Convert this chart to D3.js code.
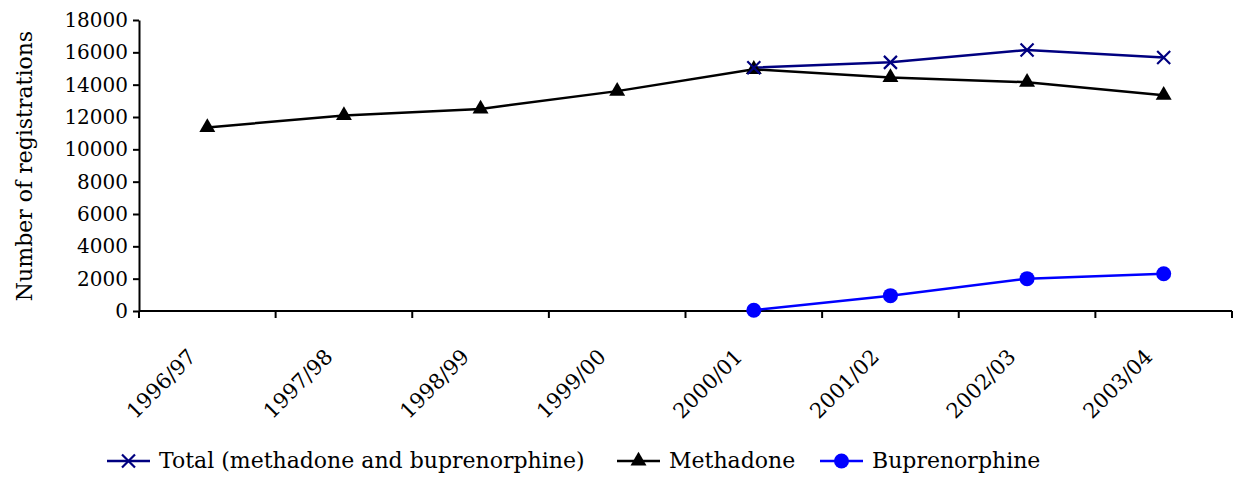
<!DOCTYPE html>
<html>
<head>
<meta charset="utf-8">
<script src="https://cdn.jsdelivr.net/npm/d3@7"></script>
<style>
  body { margin: 0; background: #fff; }
  svg text { font-family: "DejaVu Serif", serif; }
</style>
</head>
<body>
<svg id="chart" width="1234" height="477"></svg>
<script>
const years = ["1996/97", "1997/98", "1998/99", "1999/00", "2000/01", "2001/02", "2002/03", "2003/04"];
const totalValues = [null, null, null, null, 15050, 15380, 16150, 15680];
const methadoneValues = [11350, 12100, 12500, 13600, 14950, 14450, 14150, 13350];
const buprenorphineValues = [null, null, null, null, 50, 950, 2000, 2300];
const yTicks = [0, 2000, 4000, 6000, 8000, 10000, 12000, 14000, 16000, 18000];

const svg = d3.select("#chart");
const plotLeft = 139, plotRight = 1232, plotTop = 20, plotBottom = 311;
const FONT = "'DejaVu Serif', serif";

const x = d3.scaleBand().domain(years).range([plotLeft, plotRight]).padding(0);
const y = d3.scaleLinear().domain([0, 18000]).range([plotBottom, plotTop]);

// y axis
const yAxis = svg.append("g")
    .attr("transform", "translate(" + plotLeft + ",0)")
    .call(d3.axisLeft(y).tickValues(yTicks).tickSize(6).tickSizeOuter(0).tickFormat(d3.format("d")));
yAxis.select(".domain").attr("stroke", "#000").attr("stroke-width", 2);
yAxis.selectAll(".tick line").attr("stroke-width", 2);
yAxis.selectAll("text").attr("x", -11).attr("fill", "#000")
    .style("font-family", FONT).style("font-size", "20px");

// x axis: ticks on category boundaries
const xAxis = svg.append("g").attr("transform", "translate(0," + plotBottom + ")");
xAxis.append("line").attr("x1", plotLeft).attr("x2", plotRight).attr("stroke", "#000").attr("stroke-width", 2);
const bounds = years.map(d => x(d)).concat([plotRight]);
xAxis.selectAll("line.tk").data(bounds).join("line").attr("class", "tk")
    .attr("x1", d => d).attr("x2", d => d).attr("y1", 0).attr("y2", 7)
    .attr("stroke", "#000").attr("stroke-width", 2);
xAxis.selectAll("text").data(years).join("text")
    .attr("transform", d => "translate(" + (x(d) + x.bandwidth() / 2 - 10) + ",47) rotate(-45)")
    .attr("text-anchor", "end")
    .style("font-family", FONT).style("font-size", "21px")
    .text(d => d);

// y title
svg.append("text")
    .attr("transform", "translate(32,166) rotate(-90)")
    .attr("text-anchor", "middle")
    .style("font-family", FONT).style("font-size", "22px")
    .text("Number of registrations");

const cx = d => x(d) + x.bandwidth() / 2;

function series(values, color) {
  const pts = years.map((d, i) => ({ year: d, v: values[i] })).filter(p => p.v !== null);
  const line = d3.line().x(p => cx(p.year)).y(p => y(p.v));
  svg.append("path").datum(pts).attr("d", line)
      .attr("fill", "none").attr("stroke", color).attr("stroke-width", 2.5);
  return pts;
}

function triangle(g, px, py, color) {
  g.append("path").attr("d", d3.symbol(d3.symbolTriangle, 110)())
      .attr("transform", "translate(" + px + "," + py + ")").attr("fill", color);
}
function cross(g, px, py, color) {
  const s = 6.5;
  g.append("path").attr("d", "M" + (px - s) + "," + (py - s) + "L" + (px + s) + "," + (py + s) +
      "M" + (px - s) + "," + (py + s) + "L" + (px + s) + "," + (py - s))
      .attr("stroke", color).attr("stroke-width", 2.2).attr("fill", "none");
}
function dot(g, px, py, color) {
  g.append("circle").attr("cx", px).attr("cy", py).attr("r", 7.5).attr("fill", color);
}

const navy = "#000080", blue = "#0000ff";
const bPts = series(buprenorphineValues, blue);
const mPts = series(methadoneValues, "#000");
const tPts = series(totalValues, navy);
bPts.forEach(p => dot(svg, cx(p.year), y(p.v), blue));
mPts.forEach(p => triangle(svg, cx(p.year), y(p.v), "#000"));
tPts.forEach(p => cross(svg, cx(p.year), y(p.v), navy));

// legend
const legend = [
  { name: "Total (methadone and buprenorphine)", color: navy, mark: cross, x0: 107 },
  { name: "Methadone", color: "#000", mark: triangle, x0: 617 },
  { name: "Buprenorphine", color: blue, mark: dot, x0: 820 }
];
const ly = 461;
legend.forEach(l => {
  svg.append("line").attr("x1", l.x0).attr("x2", l.x0 + 43).attr("y1", ly).attr("y2", ly)
      .attr("stroke", l.color).attr("stroke-width", 2.5);
  l.mark(svg, l.x0 + 21.5, ly, l.color);
  svg.append("text").attr("x", l.x0 + 52).attr("y", ly + 7)
      .style("font-family", FONT).style("font-size", "22px").text(l.name);
});
</script>
</body>
</html>
